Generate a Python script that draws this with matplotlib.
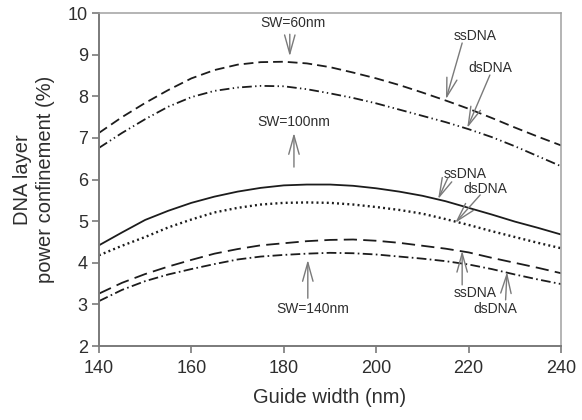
import numpy as np
import matplotlib.pyplot as plt

plt.rcParams['font.family'] = ['Liberation Sans', 'DejaVu Sans']
plt.rcParams['lines.scale_dashes'] = False

# guide width (nm)
width = [140, 145, 150, 155, 160, 165, 170, 175, 180, 185, 190,
         195, 200, 205, 210, 215, 220, 225, 230, 235, 240]

# DNA layer power confinement (%) for each slot width
ss_sw60 = [7.12, 7.50, 7.84, 8.15, 8.43, 8.63, 8.76, 8.82, 8.83, 8.79, 8.70,
           8.57, 8.43, 8.27, 8.09, 7.90, 7.70, 7.48, 7.25, 7.03, 6.82]
ds_sw60 = [6.76, 7.12, 7.45, 7.75, 7.98, 8.13, 8.21, 8.25, 8.24, 8.17, 8.07,
           7.96, 7.83, 7.68, 7.53, 7.38, 7.21, 7.02, 6.80, 6.56, 6.32]
ss_sw100 = [4.42, 4.73, 5.03, 5.25, 5.44, 5.59, 5.71, 5.80, 5.86, 5.88, 5.88,
            5.85, 5.79, 5.71, 5.61, 5.48, 5.32, 5.16, 4.99, 4.84, 4.68]
ds_sw100 = [4.18, 4.41, 4.62, 4.85, 5.04, 5.21, 5.32, 5.40, 5.44, 5.45, 5.44,
            5.40, 5.34, 5.27, 5.18, 5.05, 4.91, 4.76, 4.62, 4.48, 4.35]
ss_sw140 = [3.26, 3.52, 3.73, 3.91, 4.07, 4.22, 4.33, 4.42, 4.47, 4.52, 4.55,
            4.56, 4.53, 4.48, 4.41, 4.34, 4.25, 4.12, 4.00, 3.88, 3.75]
ds_sw140 = [3.08, 3.35, 3.56, 3.72, 3.85, 3.97, 4.08, 4.15, 4.19, 4.22, 4.24,
            4.23, 4.20, 4.15, 4.10, 4.04, 3.96, 3.85, 3.72, 3.60, 3.49]

x_ticks = [140, 160, 180, 200, 220, 240]
y_ticks = [2, 3, 4, 5, 6, 7, 8, 9, 10]

line_col = '#1c1c1c'
grey = '#7a7a7a'
text_col = '#2e2e2e'

fig = plt.figure(figsize=(5.82, 4.2), dpi=100)
ax = fig.add_axes([0.170, 0.176, 0.794, 0.793])

lw = 1.3
ax.plot(width, ss_sw60, color=line_col, lw=lw, linestyle=(0, (7, 3.6)))
ax.plot(width, ds_sw60, color=line_col, lw=lw, linestyle=(0, (7, 2.4, 1, 2.4, 1, 2.4)))
ax.plot(width, ss_sw100, color=line_col, lw=lw, linestyle='-')
ax.plot(width, ds_sw100, color=line_col, lw=1.7, linestyle=(0, (1.4, 2.3)))
ax.plot(width, ss_sw140, color=line_col, lw=lw, linestyle=(0, (9.5, 4.5)))
ax.plot(width, ds_sw140, color=line_col, lw=lw, linestyle=(0, (7, 2.4, 1.2, 2.4)))

ax.set_xlim(140, 240)
ax.set_ylim(2, 10)
ax.set_xticks(x_ticks)
ax.set_yticks(y_ticks)
ax.tick_params(axis='both', direction='out', length=5, width=1.2, color=grey,
               labelsize=13, labelcolor=text_col, pad=5)
ax.tick_params(axis='y', pad=3)
for side in ['left', 'bottom']:
    ax.spines[side].set_color(grey)
    ax.spines[side].set_linewidth(1.4)
for side in ['top', 'right']:
    ax.spines[side].set_color('#a0a0a0')
    ax.spines[side].set_linewidth(1.1)

ax.set_xlabel('Guide width (nm)', fontsize=14.5, color=text_col, labelpad=8)
ax.set_ylabel('DNA layer\npower confinement (%)', fontsize=14.5, color=text_col,
              linespacing=1.25)
ax.yaxis.set_label_coords(-0.095, 0.5)

# open V heads, long and narrow
arrow = dict(arrowstyle='->, head_length=0.9, head_width=0.25',
             mutation_scale=15, color=grey, lw=1.0, shrinkA=0, shrinkB=0)

# labels: (text, text position, arrow tail, arrow tip)
notes = [
    ('SW=60nm', (181.9, 9.76), (181.3, 9.49), (181.3, 8.96)),
    ('ssDNA', (221.4, 9.45), (218.6, 9.28), (215.1, 7.93)),
    ('dsDNA', (224.6, 8.68), (224.6, 8.51), (219.7, 7.24)),
    ('SW=100nm', (182.1, 7.38), (182.2, 6.30), (182.2, 7.12)),
    ('ssDNA', (219.2, 6.14), (215.5, 6.04), (213.4, 5.53)),
    ('dsDNA', (223.7, 5.77), (222.5, 5.63), (217.1, 4.96)),
    ('SW=140nm', (186.3, 2.89), (185.2, 3.15), (185.2, 4.07)),
    ('ssDNA', (221.4, 3.27), (218.6, 3.47), (218.6, 4.29)),
    ('dsDNA', (225.8, 2.89), (228.0, 3.11), (228.3, 3.78)),
]
for label, pos, tail, tip in notes:
    ax.text(pos[0], pos[1], label, fontsize=10, color=text_col,
            ha='center', va='center')
    ax.annotate('', xy=tip, xytext=tail, arrowprops=arrow)

fig.savefig('out.png', dpi=100)
